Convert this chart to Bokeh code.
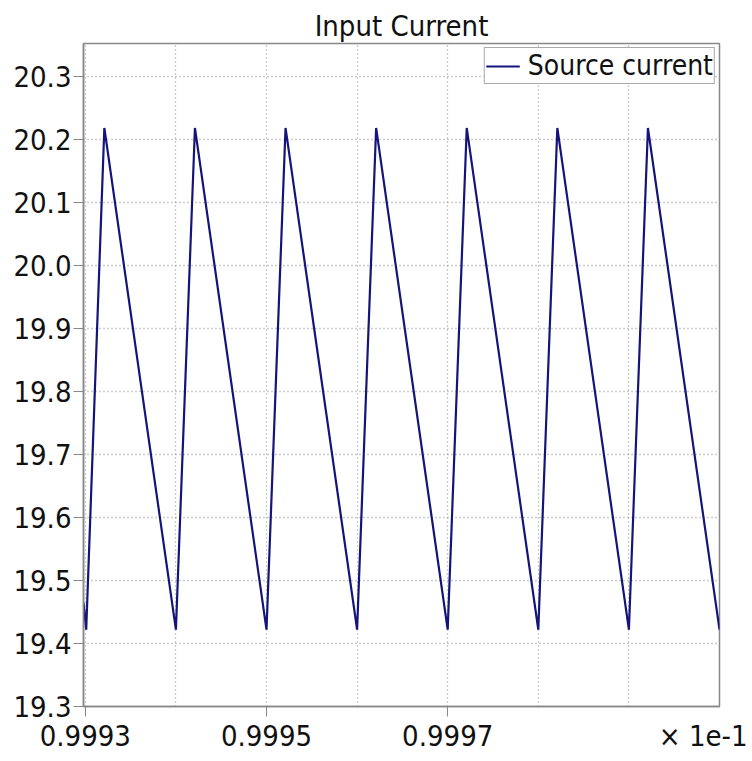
from bokeh.plotting import figure
from bokeh.models import FixedTicker, Range1d, LinearAxis, Legend, LegendItem
from bokeh.embed import file_html
from bokeh.resources import INLINE

# Time (shown as value x 1e-1) and source current samples
time = [0.999298, 0.999301, 0.999321,
        0.999400, 0.999421,
        0.999500, 0.999521,
        0.999600, 0.999621,
        0.999700, 0.999721,
        0.999800, 0.999821,
        0.999900, 0.999921,
        1.000000]
current = [19.465, 19.422, 20.218,
           19.422, 20.218,
           19.422, 20.218,
           19.422, 20.218,
           19.422, 20.218,
           19.422, 20.218,
           19.422, 20.218,
           19.422]

x_ticks = [0.9993, 0.9995, 0.9997]
x_grid = [0.9993, 0.9994, 0.9995, 0.9996, 0.9997, 0.9998, 0.9999]
y_ticks = [19.3, 19.4, 19.5, 19.6, 19.7, 19.8, 19.9, 20.0, 20.1, 20.2, 20.3]
scale_note = "\u00d7 1e-1"
scale_note_pos = 0.999982

FONT = "DejaVu Sans Condensed"

p = figure(width=752, height=761, output_backend="svg", toolbar_location=None,
           x_range=Range1d(0.999298, 1.0000), y_range=Range1d(19.3, 20.352),
           min_border_left=83, min_border_right=33, min_border_top=43, min_border_bottom=55,
           title="Input Current")
p.title.align = "center"
p.title.text_font = FONT
p.title.text_font_size = "29px"
p.title.text_font_style = "normal"
p.title.text_color = "#111111"
p.title.standoff = 2

r = p.line(time, current, line_color="#14147a", line_width=2.2)

# first bottom axis: axis line + tick marks only (labels not drawn)
xa = p.xaxis[0]
xa.ticker = FixedTicker(ticks=x_ticks)
xa.major_label_text_font_size = "1px"
xa.major_label_text_color = None
xa.major_label_text_alpha = 0
xa.major_label_standoff = 0
xa.axis_line_color = "#888888"
xa.axis_line_width = 1.5
xa.major_tick_line_color = "#888888"
xa.major_tick_out = 10
xa.major_tick_in = 0
xa.minor_tick_line_color = None

# second bottom axis: the tick labels plus the scale note
lab_ticks = x_ticks + [scale_note_pos]
overrides = {t: f"{t:.4f}" for t in x_ticks}
overrides[scale_note_pos] = scale_note
xl = LinearAxis(ticker=FixedTicker(ticks=lab_ticks), major_label_overrides=overrides,
                axis_line_color=None, major_tick_line_color=None, minor_tick_line_color=None,
                major_tick_out=0, major_tick_in=0, major_label_standoff=2,
                major_label_text_font=FONT, major_label_text_font_size="29px",
                major_label_text_color="#111111")
p.add_layout(xl, "below")

p.xgrid.ticker = FixedTicker(ticks=x_grid)
ya = p.yaxis[0]
ya.ticker = FixedTicker(ticks=y_ticks)
ya.major_label_overrides = {t: f"{t:.1f}" for t in y_ticks}
ya.major_label_text_font = FONT
ya.major_label_text_font_size = "29px"
ya.major_label_text_color = "#111111"
ya.axis_line_color = "#888888"
ya.axis_line_width = 1.5
ya.major_tick_line_color = "#888888"
ya.major_tick_out = 10
ya.major_tick_in = 0
ya.minor_tick_line_color = None
ya.major_label_standoff = 2
p.ygrid.ticker = FixedTicker(ticks=y_ticks)

for g in (p.xgrid[0], p.ygrid[0]):
    g.grid_line_color = "#999999"
    g.grid_line_dash = "1 3"
    g.grid_line_width = 1.3

p.outline_line_color = "#888888"
p.outline_line_width = 1.5
p.background_fill_color = "white"
p.border_fill_color = "white"

legend = Legend(items=[LegendItem(label="Source current", renderers=[r])],
                location="top_right")
legend.label_text_font = FONT
legend.label_text_font_size = "28px"
legend.label_text_color = "#111111"
legend.border_line_color = "#555555"
legend.border_line_width = 1
legend.margin = 4
legend.padding = 1
legend.glyph_width = 34
legend.label_standoff = 8
legend.spacing = 0
p.add_layout(legend)

open("out.html", "w").write(file_html(p, INLINE))
